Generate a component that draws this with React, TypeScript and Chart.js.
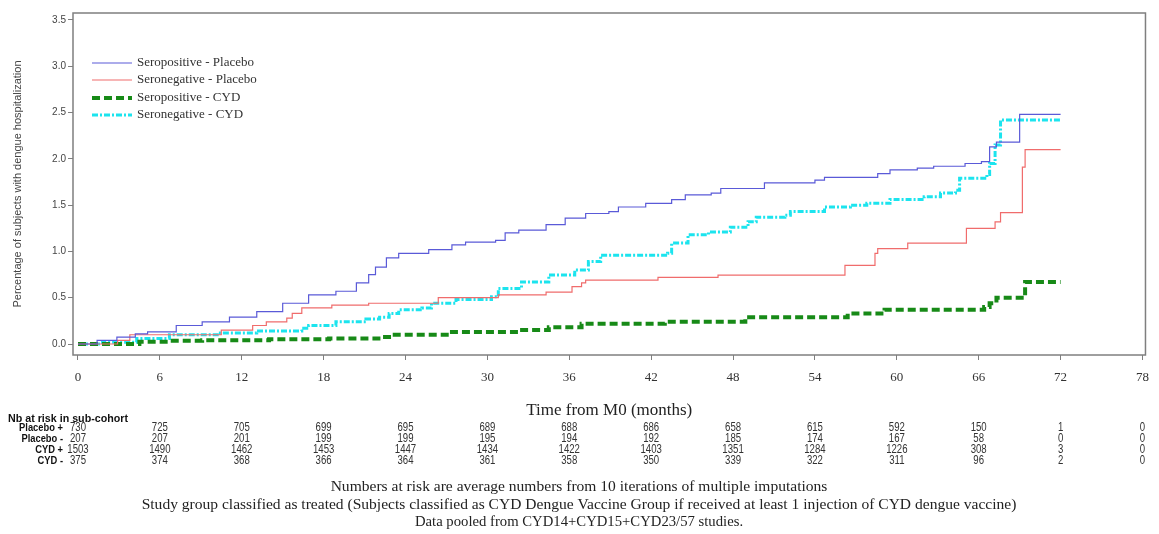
import { useEffect, useRef } from "react";
import { Chart, registerables } from "chart.js";

Chart.register(...registerables);

const X_TICKS = [0, 6, 12, 18, 24, 30, 36, 42, 48, 54, 60, 66, 72, 78];
const Y_TICKS = [0, 0.5, 1, 1.5, 2, 2.5, 3, 3.5];

const SERIES_NAMES = [
  "Seropositive - Placebo",
  "Seronegative - Placebo",
  "Seropositive - CYD",
  "Seronegative - CYD",
];

const SEROPOS_PLACEBO_T = [0, 1.4, 2.85, 4.2, 5.1, 7.2, 9.1, 11.1, 13.1, 15.0, 16.9, 18.9, 20.4, 21.3, 21.8, 22.6, 23.5, 25.7, 27.4, 28.4, 30.6, 31.3, 32.3, 34.3, 35.7, 37.2, 38.9, 39.6, 41.6, 43.5, 44.5, 46.4, 47.1, 50.3, 54.0, 54.7, 58.6, 59.5, 61.5, 62.7, 65.0, 66.2, 66.8, 67.3, 69.0, 72];
const SEROPOS_PLACEBO_V = [0, 0.04, 0.075, 0.11, 0.13, 0.2, 0.24, 0.29, 0.35, 0.44, 0.53, 0.57, 0.66, 0.75, 0.83, 0.93, 0.98, 1.02, 1.07, 1.1, 1.12, 1.2, 1.23, 1.29, 1.36, 1.41, 1.43, 1.48, 1.52, 1.56, 1.61, 1.63, 1.68, 1.74, 1.77, 1.8, 1.84, 1.88, 1.9, 1.92, 1.95, 1.97, 2.13, 2.18, 2.48, 2.48];

const SERONEG_PLACEBO_T = [0, 2.9, 3.8, 10.5, 12.8, 13.8, 15.3, 15.7, 16.4, 18.6, 21.3, 26.4, 30.8, 34.3, 36.2, 36.9, 37.2, 42.5, 46.9, 56.2, 58.4, 58.6, 60.8, 65.1, 67.2, 67.6, 69.2, 69.4, 72];
const SERONEG_PLACEBO_V = [0, 0.04, 0.1, 0.15, 0.2, 0.24, 0.28, 0.33, 0.39, 0.42, 0.44, 0.5, 0.53, 0.56, 0.62, 0.66, 0.69, 0.72, 0.745, 0.85, 0.98, 1.03, 1.09, 1.25, 1.32, 1.42, 1.91, 2.1, 2.1];

const SEROPOS_CYD_T = [0, 4.5, 6.7, 9.1, 14.0, 18.4, 22.3, 23.0, 27.2, 32.3, 34.5, 36.9, 43.0, 48.9, 56.4, 59.1, 66.4, 66.8, 67.3, 69.4, 72];
const SEROPOS_CYD_V = [0, 0.025, 0.035, 0.04, 0.05, 0.06, 0.075, 0.1, 0.13, 0.15, 0.18, 0.22, 0.24, 0.29, 0.33, 0.37, 0.4, 0.44, 0.5, 0.67, 0.67];

const SERONEG_CYD_T = [0, 1.8, 4.3, 6.7, 10.2, 13.1, 16.4, 16.9, 18.9, 21.1, 22.1, 22.8, 23.5, 25.2, 25.9, 27.7, 30.3, 30.8, 32.5, 34.5, 36.4, 37.4, 38.3, 43.2, 43.5, 44.7, 46.2, 47.8, 49.1, 49.7, 51.8, 52.2, 54.7, 56.6, 57.8, 59.5, 62.0, 63.2, 64.3, 64.6, 66.6, 66.8, 67.2, 67.6, 72];
const SERONEG_CYD_V = [0, 0.02, 0.06, 0.1, 0.12, 0.14, 0.17, 0.2, 0.24, 0.27, 0.29, 0.33, 0.37, 0.39, 0.44, 0.48, 0.51, 0.6, 0.67, 0.745, 0.8, 0.89, 0.96, 0.98, 1.09, 1.18, 1.21, 1.26, 1.32, 1.37, 1.39, 1.43, 1.48, 1.5, 1.52, 1.56, 1.59, 1.63, 1.66, 1.79, 1.83, 1.95, 2.15, 2.42, 2.42];

const RISK_HEADER = "Nb at risk in sub-cohort";
const RISK_LABELS = ["Placebo +", "Placebo -", "CYD +", "CYD -"];
const RISK_PLACEBO_POS = [730, 725, 705, 699, 695, 689, 688, 686, 658, 615, 592, 150, 1, 0];
const RISK_PLACEBO_NEG = [207, 207, 201, 199, 199, 195, 194, 192, 185, 174, 167, 58, 0, 0];
const RISK_CYD_POS = [1503, 1490, 1462, 1453, 1447, 1434, 1422, 1403, 1351, 1284, 1226, 308, 3, 0];
const RISK_CYD_NEG = [375, 374, 368, 366, 364, 361, 358, 350, 339, 322, 311, 96, 2, 0];

const FOOTNOTES = [
  "Numbers at risk are average numbers from 10 iterations of multiple imputations",
  "Study group classified as treated (Subjects classified as CYD Dengue Vaccine Group if received at least 1 injection of CYD dengue vaccine)",
  "Data pooled from CYD14+CYD15+CYD23/57 studies.",
];

const X_TITLE = "Time from M0 (months)";
const Y_TITLE = "Percentage of subjects with dengue hospitalization";

const toPoints = (t: number[], v: number[]) => t.map((x, i) => ({ x, y: v[i] }));

const STYLES = [
  { color: "#5a5ad8", width: 1.2, dash: [] as number[] },
  { color: "#f06c6c", width: 1.2, dash: [] as number[] },
  { color: "#178a17", width: 4, dash: [8, 4] },
  { color: "#1ce4ee", width: 3, dash: [6, 2, 2, 2] },
];

function drawText(
  ctx: CanvasRenderingContext2D,
  text: string,
  x: number,
  y: number,
  font: string,
  color: string,
  align: CanvasTextAlign,
  sx = 1,
  targetWidth?: number
) {
  ctx.save();
  ctx.font = font;
  ctx.fillStyle = color;
  ctx.textBaseline = "middle";
  ctx.textAlign = align;
  let s = sx;
  if (targetWidth) {
    const w = ctx.measureText(text).width;
    s = targetWidth / w;
  }
  ctx.translate(x, y);
  ctx.scale(s, 1);
  ctx.fillText(text, 0, 0);
  ctx.restore();
}

const overlayPlugin = {
  id: "overlay",
  beforeDatasetsDraw(chart: any) {
    const { ctx, chartArea: a } = chart;
    ctx.save();
    ctx.strokeStyle = "#7f7f7f";
    ctx.lineWidth = 1.5;
    ctx.strokeRect(a.left, a.top, a.right - a.left, a.bottom - a.top);
    ctx.restore();
  },
  afterDraw(chart: any) {
    const { ctx } = chart;
    const xs = chart.scales.x;
    // legend
    const legendRows = [63, 80, 98, 115];
    SERIES_NAMES.forEach((name, i) => {
      const st = STYLES[i];
      ctx.save();
      ctx.strokeStyle = st.color;
      ctx.lineWidth = st.width;
      ctx.setLineDash(st.dash);
      ctx.beginPath();
      ctx.moveTo(92, legendRows[i]);
      ctx.lineTo(132, legendRows[i]);
      ctx.stroke();
      ctx.restore();
      drawText(ctx, name, 137, legendRows[i], '13px "Liberation Serif", serif', "#333", "left");
    });
    // risk table
    drawText(ctx, RISK_HEADER, 8, 419, 'bold 11px "Liberation Sans", sans-serif', "#111", "left", 1, 120);
    const rows = [RISK_PLACEBO_POS, RISK_PLACEBO_NEG, RISK_CYD_POS, RISK_CYD_NEG];
    const rowY = [428, 439, 450, 461];
    rows.forEach((vals, r) => {
      drawText(ctx, RISK_LABELS[r], 63, rowY[r], 'bold 11px "Liberation Sans", sans-serif', "#111", "right", 0.85);
      vals.forEach((v, i) => {
        const px = xs.getPixelForValue(X_TICKS[i]);
        drawText(ctx, String(v), px, rowY[r], '12px "Liberation Sans", sans-serif', "#333", "center", 0.8);
      });
    });
    // footnotes
    const footY = [487, 505, 522];
    const footSx = [1.11, 1.11, 1.05];
    FOOTNOTES.forEach((t, i) => {
      drawText(ctx, t, 579, footY[i], '14px "Liberation Serif", serif', "#222", "center", footSx[i]);
    });
  },
};

export default function App() {
  const ref = useRef<HTMLCanvasElement | null>(null);
  useEffect(() => {
    if (!ref.current) return;
    const chart = new Chart(ref.current, {
      type: "line",
      data: {
        datasets: [
          toPoints(SEROPOS_PLACEBO_T, SEROPOS_PLACEBO_V),
          toPoints(SERONEG_PLACEBO_T, SERONEG_PLACEBO_V),
          toPoints(SEROPOS_CYD_T, SEROPOS_CYD_V),
          toPoints(SERONEG_CYD_T, SERONEG_CYD_V),
        ].map((d, i) => ({
          label: SERIES_NAMES[i],
          data: d,
          stepped: true,
          borderColor: STYLES[i].color,
          backgroundColor: STYLES[i].color,
          borderWidth: STYLES[i].width,
          borderDash: STYLES[i].dash,
          pointRadius: 0,
          fill: false,
          tension: 0,
        })),
      },
      options: {
        animation: false,
        responsive: false,
        devicePixelRatio: 1,
        layout: { padding: { left: 0, top: 13, right: 10, bottom: 114 } },
        plugins: { legend: { display: false }, tooltip: { enabled: false } },
        scales: {
          x: {
            type: "linear",
            min: -0.365,
            max: 78.22,
            afterBuildTicks: (s: any) => {
              s.ticks = X_TICKS.map((v) => ({ value: v }));
            },
            afterFit: (s: any) => {
              s.height = 65;
            },
            ticks: {
              font: { family: '"Liberation Serif", serif', size: 13 },
              color: "#333",
              padding: 10,
              maxRotation: 0,
              autoSkip: false,
            },
            grid: { drawOnChartArea: false, drawTicks: true, tickLength: 5, color: "#7f7f7f" },
            border: { display: false },
            title: {
              display: true,
              text: X_TITLE,
              font: { family: '"Liberation Serif", serif', size: 17 },
              color: "#222",
              padding: { top: 0, bottom: -1 },
            },
          },
          y: {
            type: "linear",
            min: -0.1188,
            max: 3.5756,
            afterBuildTicks: (s: any) => {
              s.ticks = Y_TICKS.map((v) => ({ value: v }));
            },
            afterFit: (s: any) => {
              s.width = 73;
            },
            ticks: {
              font: { family: '"Liberation Sans", sans-serif', size: 10 },
              color: "#444",
              padding: 2,
              callback: (v: any) => Number(v).toFixed(1),
            },
            grid: { drawOnChartArea: false, drawTicks: true, tickLength: 5, color: "#7f7f7f" },
            border: { display: false },
            title: {
              display: true,
              text: Y_TITLE,
              font: { family: '"Liberation Sans", sans-serif', size: 11 },
              color: "#444",
              padding: { top: 11, bottom: 0 },
            },
          },
        },
      },
      plugins: [overlayPlugin],
    } as any);
    return () => chart.destroy();
  }, []);
  return (
    <div style={{ position: "relative", width: 1159, height: 534 }}>
      <style>{`body{margin:0;}`}</style>
      <canvas ref={ref} width={1159} height={534} style={{ display: "block" }} />
    </div>
  );
}
